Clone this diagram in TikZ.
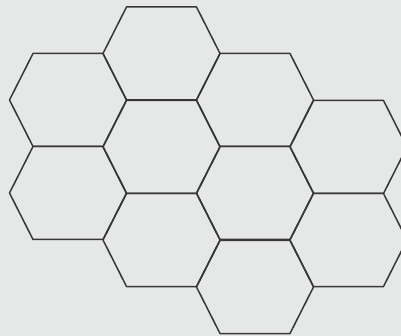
\documentclass[tikz,border=0pt]{standalone}
\definecolor{paper}{RGB}{230,231,231}
\definecolor{ink}{RGB}{55,55,55}
\tikzset{cell/.style={draw=ink,line width=1.5pt,line join=round}}
\begin{document}
\begin{tikzpicture}[x=1pt,y=-1pt]
\fill[paper] (0,0) rectangle (401,336);
\useasboundingbox (0,0) rectangle (401,336);
\begin{scope}
\clip (0,0) rectangle (401,336);
\foreach \cx/\cy in {68/100,68/193,
  161.5/53.5,161.5/147,161.5/240,
  255/100,255/193,255/287,
  348.5/147,348.5/240}{
  \draw[cell] (\cx-58.5,\cy) -- (\cx-35,\cy-46.5) -- (\cx+35,\cy-46.5)
    -- (\cx+58.5,\cy) -- (\cx+35,\cy+46.5) -- (\cx-35,\cy+46.5) -- cycle;
}
\end{scope}
\end{tikzpicture}
\end{document}
